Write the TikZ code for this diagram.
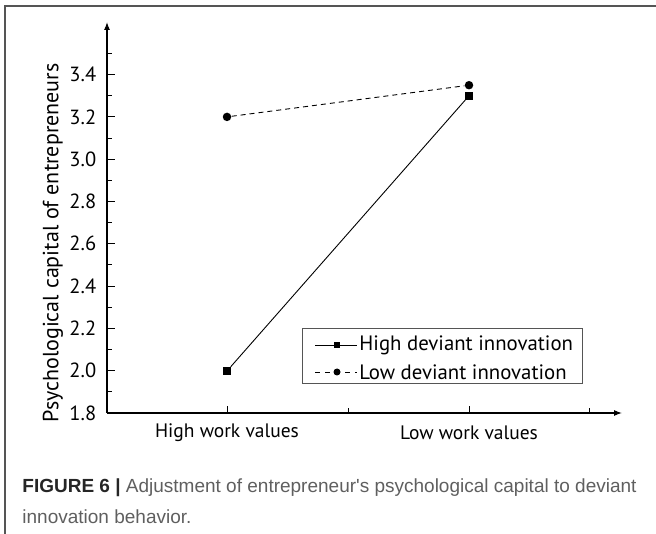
\documentclass[tikz,border=0pt]{standalone}
\usepackage{fontspec}
\setmainfont{PT Sans}
\newfontfamily\capfont{Liberation Sans}
\usetikzlibrary{arrows.meta,positioning}
\definecolor{capgray}{RGB}{95,95,95}
\definecolor{framegray}{RGB}{85,85,85}

\begin{document}
\begin{tikzpicture}[x=1pt,y=-1pt,>=Latex,line width=0.9pt,
  every node/.style={font=\fontsize{19.5}{21}\selectfont},
  sqmark/.style={fill,inner sep=0pt,minimum size=7.5pt},
  dotmark/.style={circle,fill,inner sep=0pt,minimum size=8.5pt},
  sqsmall/.style={fill,inner sep=0pt,minimum size=6.5pt},
  dotsmall/.style={circle,fill,inner sep=0pt,minimum size=7pt},
  lowline/.style={dash pattern=on 5pt off 4pt}]
  \useasboundingbox (0,0) rectangle (656,534);
  % frame
  \draw[framegray,line width=1.3pt] (5,534) -- (5,6) -- (656,6);
  % axes
  \coordinate (O) at (107,413);
  \coordinate (ytop) at (107,22);
  \coordinate (xend) at (622,413);
  \draw[->,line width=1.1pt] (O) -- (ytop);
  \draw[->,line width=1.1pt] (O) -- (xend);
  \foreach \i/\v in {0/1.8,1/2.0,2/2.2,3/2.4,4/2.6,5/2.8,6/3.0,7/3.2,8/3.4} {
    \draw (107,413-\i*42.3) -- ++(8,0);
    \node[anchor=east,font=\fontsize{20.5}{22}\selectfont] (t\i) at (100,413-\i*42.3) {\v};
  }
  \foreach \i in {0,...,8}
    \draw (107,413-21.15-\i*42.3) -- ++(4.5,0);
  \draw (227,413) -- ++(0,-7);
  \draw (469,413) -- ++(0,-7);
  \draw (348,413) -- ++(0,-4.5);
  \draw (589,413) -- ++(0,-4.5);
  \node (hwv) at (227,433) {High work values};
  \node (lwv) at (469,433) {Low work values};
  \node[rotate=90,font=\fontsize{22}{24}\selectfont] (ylab) at (53,243) {Psychological capital of entrepreneurs};
  % data
  \node[sqmark] (h1) at (227,371) {};
  \node[sqmark] (h2) at (469,95.8) {};
  \node[dotmark] (l1) at (227,116.9) {};
  \node[dotmark] (l2) at (469,85.2) {};
  \draw (h1) -- (h2);
  \draw[lowline] (l1) -- (l2);
  % legend
  \draw[framegray,line width=0.8pt] (302,328) rectangle (582,383);
  \coordinate (a1) at (315,345);
  \coordinate (a2) at (357,345);
  \coordinate (b1) at (315,372);
  \coordinate (b2) at (357,372);
  \draw (a1) -- (a2);
  \draw[dash pattern=on 5pt off 5pt] (b1) -- (b2);
  \node[sqsmall] (hm) at (337,345) {};
  \node[dotsmall] (lm) at (337,372) {};
  \node[anchor=west,inner sep=1pt,font=\fontsize{20.8}{22}\selectfont] (hdi) at (358,345) {High deviant innovation};
  \node[anchor=west,inner sep=1pt,font=\fontsize{20.8}{22}\selectfont] (ldi) at (358,372) {Low deviant innovation};
  % caption
  \node[anchor=west,inner sep=0pt,text=capgray,font=\capfont\fontsize{19}{21}\selectfont] (cap1) at (22,488)
    {{\bfseries\color{black!85} FIGURE 6 |} Adjustment of entrepreneur's psychological capital to deviant};
  \node[anchor=west,inner sep=0pt,text=capgray,font=\capfont\fontsize{19}{21}\selectfont] (cap2) at (22,517)
    {innovation behavior.};
\end{tikzpicture}
\end{document}
